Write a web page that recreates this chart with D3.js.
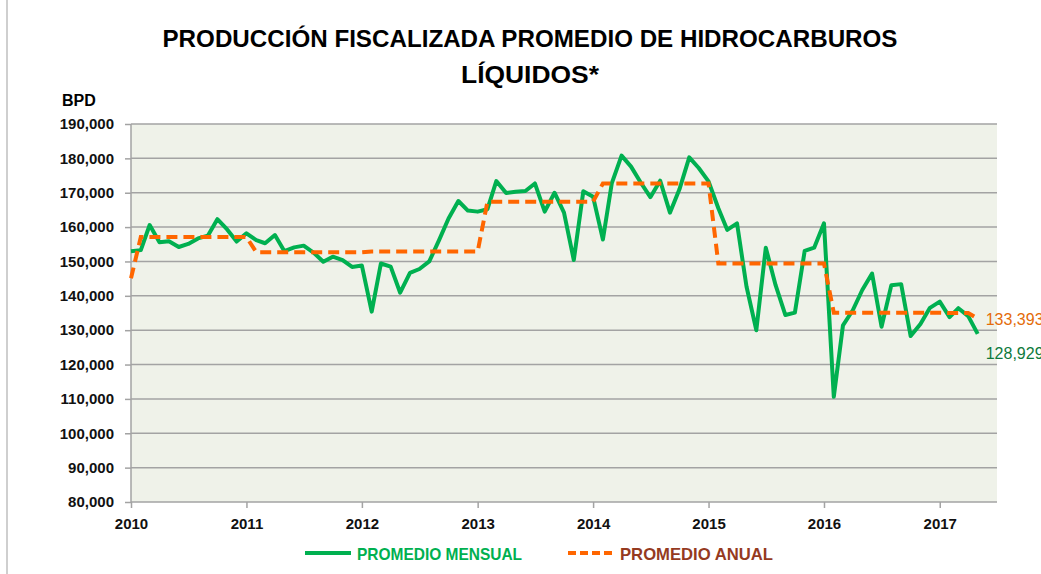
<!DOCTYPE html>
<html>
<head>
<meta charset="utf-8">
<script src="https://cdn.jsdelivr.net/npm/d3@7"></script>
<style>
  body { margin: 0; background: #fff; }
  text { font-family: "Liberation Sans", Arial, sans-serif; }
</style>
</head>
<body>
<div id="chart"></div>
<script>
// monthly values, Jan 2010 .. May 2017 (BPD)
var mensual = [
  153000, 153300, 160600, 155600, 155900, 154200, 155100, 156700, 157500, 162300, 159300, 155800,
  158200, 156200, 155300, 157700, 153000, 154100, 154600, 152600, 149900, 151400, 150400, 148400,
  148800, 135400, 149400, 148500, 140900, 146700, 147800, 150000, 156200, 162500, 167600, 164800,
  164500, 165200, 173400, 169900, 170300, 170500, 172700, 164500, 170000, 164200, 150400, 170400,
  168800, 156400, 172700, 180800, 177600, 172900, 168700, 173500, 164200, 171000, 180300, 177200,
  173300, 165500, 159200, 161100, 142700, 130000, 154000, 143100, 134400, 135100, 153100, 154000,
  161100, 110600, 131400, 135800, 141700, 146500, 131000, 143100, 143400, 128300, 131800, 136500,
  138300, 133800, 136400, 134100, 128929
];

// annual average, one value per month
var anual = [145100,
  157100, 157100, 157100, 157100, 157100, 157100, 157100, 157100, 157100, 157100, 157100, 157100,
  152700, 152700, 152700, 152700, 152700, 152700, 152700, 152700, 152700, 152700, 152700, 152700,
  152900, 152900, 152900, 152900, 152900, 152900, 152900, 152900, 152900, 152900, 152900, 152900,
  167400, 167400, 167400, 167400, 167400, 167400, 167400, 167400, 167400, 167400, 167400, 167400,
  172700, 172700, 172700, 172700, 172700, 172700, 172700, 172700, 172700, 172700, 172700, 172700,
  149400, 149400, 149400, 149400, 149400, 149400, 149400, 149400, 149400, 149400, 149400, 149400,
  135100, 135100, 135100, 135100, 135100, 135100, 135100, 135100, 135100, 135100, 135100, 135100,
  135000, 135000, 135000, 133393
];

var yearTicks = [2010, 2011, 2012, 2013, 2014, 2015, 2016, 2017];
var yTicks = [80000, 90000, 100000, 110000, 120000, 130000, 140000, 150000, 160000, 170000, 180000, 190000];

var width = 1041, height = 574;
var margin = {top: 124, right: 44, bottom: 72, left: 131};

var svg = d3.select("#chart").append("svg")
    .attr("width", width)
    .attr("height", height);

var x = d3.scaleTime()
    .domain([new Date(2010, 0, 1), new Date(2017, 6, 1)])
    .range([margin.left, width - margin.right]);

var y = d3.scaleLinear()
    .domain([80000, 190000])
    .range([height - margin.bottom, margin.top]);

// left border of chart area
svg.append("line")
    .attr("x1", 7).attr("x2", 7)
    .attr("y1", 0).attr("y2", height)
    .attr("stroke", "#bfbfbf")
    .attr("stroke-width", 1.5);

// plot background
svg.append("rect")
    .attr("x", x.range()[0])
    .attr("y", y.range()[1])
    .attr("width", x.range()[1] - x.range()[0])
    .attr("height", y.range()[0] - y.range()[1])
    .attr("fill", "#eff2e9");

// gridlines
svg.append("g")
    .selectAll("line")
    .data(yTicks.slice(1))
    .enter().append("line")
    .attr("x1", x.range()[0])
    .attr("x2", x.range()[1])
    .attr("y1", function(d) { return y(d); })
    .attr("y2", function(d) { return y(d); })
    .attr("stroke", "#a3a3a3")
    .attr("stroke-width", 1.5);

// y axis
var yAxis = svg.append("g")
    .attr("transform", "translate(" + margin.left + ",0)")
    .call(d3.axisLeft(y).tickValues(yTicks).tickSize(6).tickPadding(11)
        .tickFormat(d3.format(",")));
yAxis.selectAll("line, path").attr("stroke", "#a3a3a3").attr("stroke-width", 1.5);
yAxis.select(".domain").attr("d", "M0," + y.range()[0] + "V" + y.range()[1]);
yAxis.selectAll("text")
    .attr("font-family", "Liberation Sans, Arial, sans-serif")
    .attr("font-size", 15)
    .attr("font-weight", "bold")
    .attr("fill", "#111");

// x axis
var xAxis = svg.append("g")
    .attr("transform", "translate(0," + y.range()[0] + ")")
    .call(d3.axisBottom(x)
        .tickValues(yearTicks.map(function(d) { return new Date(d, 0, 1); }))
        .tickSize(6).tickPadding(10)
        .tickFormat(d3.timeFormat("%Y")));
xAxis.selectAll("line, path").attr("stroke", "#a3a3a3").attr("stroke-width", 1.5);
xAxis.select(".domain").attr("d", "M" + x.range()[0] + ",0H" + x.range()[1]);
xAxis.selectAll("text")
    .attr("font-family", "Liberation Sans, Arial, sans-serif")
    .attr("font-size", 15)
    .attr("font-weight", "bold")
    .attr("fill", "#111");

// lines
var line = d3.line()
    .x(function(d, i) { return x(new Date(2010, i, 1)); })
    .y(function(d) { return y(d); });

svg.append("path")
    .datum(mensual)
    .attr("d", line)
    .attr("fill", "none")
    .attr("stroke", "#00b050")
    .attr("stroke-width", 4)
    .attr("stroke-linejoin", "round");

svg.append("path")
    .datum(anual)
    .attr("d", line)
    .attr("fill", "none")
    .attr("stroke", "#ff6600")
    .attr("stroke-width", 4)
    .attr("stroke-dasharray", "11,6");

// end labels
var last = mensual.length - 1;
svg.append("text")
    .attr("x", x(new Date(2010, last, 1)) + 8)
    .attr("y", y(anual[last]) + 6)
    .attr("font-size", 16)
    .attr("fill", "#e46c0a")
    .text(d3.format(",")(anual[last]));

svg.append("text")
    .attr("x", x(new Date(2010, last, 1)) + 8)
    .attr("y", y(mensual[last]) + 25)
    .attr("font-size", 16)
    .attr("fill", "#0e7a3c")
    .text(d3.format(",")(mensual[last]));

// title
svg.append("text")
    .attr("x", 530).attr("y", 47)
    .attr("text-anchor", "middle")
    .attr("font-size", 24)
    .attr("font-weight", "bold")
    .attr("textLength", 735)
    .attr("lengthAdjust", "spacingAndGlyphs")
    .text("PRODUCCIÓN FISCALIZADA PROMEDIO DE HIDROCARBUROS");

svg.append("text")
    .attr("x", 530).attr("y", 83)
    .attr("text-anchor", "middle")
    .attr("font-size", 24)
    .attr("font-weight", "bold")
    .attr("textLength", 138)
    .attr("lengthAdjust", "spacingAndGlyphs")
    .text("LÍQUIDOS*");

svg.append("text")
    .attr("x", 62).attr("y", 106)
    .attr("font-size", 16)
    .attr("font-weight", "bold")
    .text("BPD");

// legend
var legendItems = [
  {label: "PROMEDIO MENSUAL", color: "#00b050", text: "#00b050", dash: null, x: 305, w: 165},
  {label: "PROMEDIO ANUAL", color: "#ff6600", text: "#953a1f", dash: "8,4", x: 568, w: 153}
];
var legend = svg.append("g")
    .selectAll("g")
    .data(legendItems)
    .enter().append("g")
    .attr("transform", function(d) { return "translate(" + d.x + ",553)"; });
legend.append("line")
    .attr("x1", 0).attr("x2", 46)
    .attr("stroke", function(d) { return d.color; })
    .attr("stroke-width", 4)
    .attr("stroke-dasharray", function(d) { return d.dash; });
legend.append("text")
    .attr("x", 52).attr("y", 7)
    .attr("font-size", 17)
    .attr("font-weight", "bold")
    .attr("fill", function(d) { return d.text; })
    .attr("textLength", function(d) { return d.w; })
    .attr("lengthAdjust", "spacingAndGlyphs")
    .text(function(d) { return d.label; });
</script>
</body>
</html>
